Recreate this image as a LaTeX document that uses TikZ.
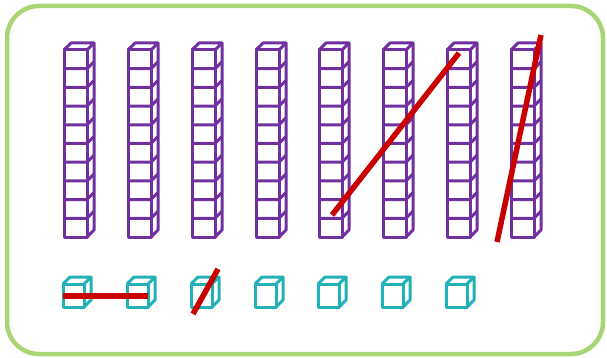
\documentclass[tikz,border=0pt]{standalone}
\usepackage{tikz}
\usetikzlibrary{positioning}

\definecolor{rodpurple}{RGB}{112,48,160}
\definecolor{unitteal}{RGB}{32,178,184}
\definecolor{strikered}{RGB}{200,0,0}
\definecolor{framegreen}{RGB}{168,214,118}

\begin{document}
\begin{tikzpicture}[x=1pt, y=-1pt,
    rodline/.style={draw=rodpurple, line width=3pt, line join=round},
    unitline/.style={draw=unitteal, line width=3pt, line join=round},
    strike/.style={draw=strikered, line width=5.5pt},
    frame/.style={draw=framegreen, line width=4.5pt, rounded corners=32pt},
    rod/.pic={
      \draw[rodline] (0,0) rectangle (23,187);
      \draw[rodline] (0,0) -- (7,-7) -- (30,-7) -- (23,0);
      \draw[rodline] (30,-7) -- (30,180) -- (23,187);
      \draw[rodline] (0,18.7) -- (23,18.7) -- (30,11.7);
      \draw[rodline] (0,37.4) -- (23,37.4) -- (30,30.4);
      \draw[rodline] (0,56.1) -- (23,56.1) -- (30,49.1);
      \draw[rodline] (0,74.8) -- (23,74.8) -- (30,67.8);
      \draw[rodline] (0,93.5) -- (23,93.5) -- (30,86.5);
      \draw[rodline] (0,112.2) -- (23,112.2) -- (30,105.2);
      \draw[rodline] (0,130.9) -- (23,130.9) -- (30,123.9);
      \draw[rodline] (0,149.6) -- (23,149.6) -- (30,142.6);
      \draw[rodline] (0,168.3) -- (23,168.3) -- (30,161.3);
    },
    unit/.pic={
      \draw[unitline] (0,0) rectangle (21,23);
      \draw[unitline] (0,0) -- (7,-7) -- (28,-7) -- (21,0);
      \draw[unitline] (28,-7) -- (28,16) -- (21,23);
    }]

\useasboundingbox (0,0) rectangle (607,358);

% Frame
\draw[frame] (7,6) rectangle (603,354);

% Row 1: eight tens rods
\pic at (64,50) {rod};
\pic at (128,50) {rod};
\pic at (192,50) {rod};
\pic at (256,50) {rod};
\pic at (319,50) {rod};
\pic at (383,50) {rod};
\pic at (447,50) {rod};
\pic at (511,50) {rod};

% Row 2: seven unit cubes
\pic at (63,284) {unit};
\pic at (127,284) {unit};
\pic at (191,284) {unit};
\pic at (255,284) {unit};
\pic at (318,284) {unit};
\pic at (382,284) {unit};
\pic at (446,284) {unit};

% Strike-out ends
\coordinate (s1a) at (63,296);
\coordinate (s1b) at (148,296);
\coordinate (s2a) at (193,314);
\coordinate (s2b) at (218,269);
\coordinate (s3a) at (332,215);
\coordinate (s3b) at (459,53);
\coordinate (s4a) at (497,242);
\coordinate (s4b) at (541,35);

% Strike-outs
\draw[strike] (s1a) -- (s1b);
\draw[strike] (s2a) -- (s2b);
\draw[strike] (s3a) -- (s3b);
\draw[strike] (s4a) -- (s4b);

\end{tikzpicture}
\end{document}
